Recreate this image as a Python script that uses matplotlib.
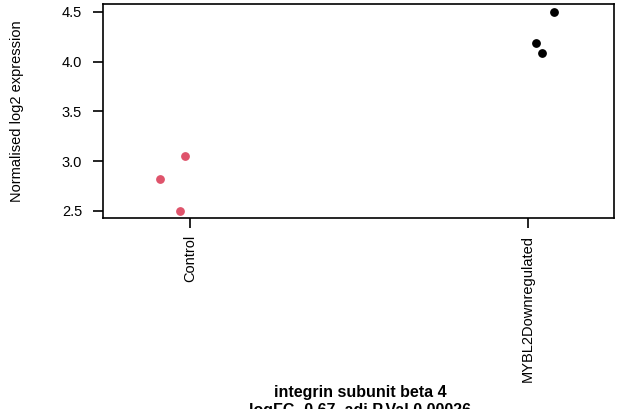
import numpy as np
import matplotlib
matplotlib.use("Agg")
import matplotlib.pyplot as plt

plt.rcParams['font.family'] = ['Liberation Sans', 'DejaVu Sans']

# groupes et valeurs
groups = ["Control", "MYBL2Downregulated"]
control_x = [0.911, 0.986, 0.970]
control_y = [2.82, 3.05, 2.50]
mybl2_x = [2.077, 2.022, 2.041]
mybl2_y = [4.50, 4.19, 4.085]
yticks = [2.5, 3.0, 3.5, 4.0, 4.5]
title1 = "integrin subunit beta 4"
title2 = "logFC -0.67, adj.P.Val 0.00026"

fig = plt.figure(figsize=(6.27, 4.09), dpi=100)
W, H = 627, 409
left, right, top, bottom = 103, 614, 4, 218
ax = fig.add_axes([left / W, 1 - bottom / H, (right - left) / W, (bottom - top) / H])

ax.scatter(control_x, control_y, s=28, color="#DF536B", zorder=3)
ax.scatter(mybl2_x, mybl2_y, s=28, color="black", zorder=3)

ax.set_xlim(0.743, 2.254)
ax.set_ylim(2.427, 4.58)
ax.set_xticks([1, 2])
ax.set_xticklabels(groups, rotation=90, fontsize=10.5)
ax.set_yticks(yticks)
ax.set_yticklabels([f"{v:.1f}" for v in yticks], fontsize=10.5)
ax.tick_params(axis="x", length=7, width=1.2, pad=5)
ax.tick_params(axis="y", length=7, width=1.2, pad=8)
for sp in ax.spines.values():
    sp.set_linewidth(1.2)
ax.set_ylabel("Normalised log2 expression", fontsize=10.5, labelpad=27)

fig.text(360 / W, 1 - 393 / H, title1, ha="center", va="center", fontsize=11.5, fontweight="bold")
fig.text(360 / W, 1 - 411 / H, title2, ha="center", va="center", fontsize=11.5, fontweight="bold")

fig.savefig("out.png", dpi=100)
